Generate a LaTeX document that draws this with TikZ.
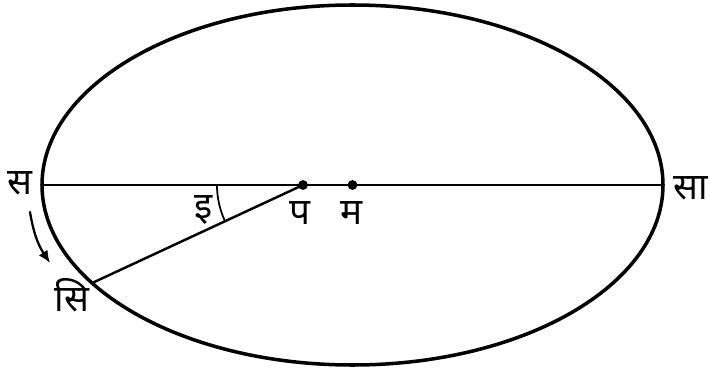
\documentclass[tikz,border=0pt]{standalone}
\usepackage{fontspec}
\usetikzlibrary{calc,arrows.meta}
\newfontfamily\devfont[Script=Devanagari]{Noto Sans}
\tikzset{
  lbl/.style={font=\devfont\fontsize{21}{24}\selectfont, inner sep=0pt},
  orbit/.style={line width=2pt},
}
\begin{document}
\begin{tikzpicture}[cap=round, >=latex]
\useasboundingbox (0,0) rectangle (14.2,7.5);
% Kendra va nabhi
\coordinate (M) at (7.05,3.8);
\coordinate (P) at (6.06,3.8);
% Dirgh vritt
\draw[orbit] (M) ellipse (6.21cm and 3.6cm);
\coordinate (S) at ($(M)+(-6.21,0)$);
\coordinate (Sa) at ($(M)+(6.21,0)$);
\coordinate (Si) at ($(M)+(213:6.21cm and 3.6cm)$);
% Aksh rekha
\draw[line width=1.4pt] (S) -- (Sa);
\draw[line width=1.4pt] (P) -- (Si);
\fill (P) circle (2.8pt);
\fill (M) circle (2.8pt);
% Kon
\draw[line width=1pt] ($(P)+(180:1.72)$) arc (180:204:1.72);
% Naam
\node[lbl] (lS) at (0.4,3.84) {स};
\node[lbl] (lSa) at (13.82,3.74) {सा};
\node[lbl] (lI) at (4.08,3.3) {इ};
\node[lbl] (lP) at (6.0,3.24) {प};
\node[lbl] (lM) at (7.04,3.24) {म};
\node[lbl] (lSi) at (1.44,1.6) {सि};
% Gati ki disha
\coordinate (a1) at (0.6,3.26);
\coordinate (a2) at (1.0,2.24);
\draw[-{Latex[length=7pt,width=6pt]}, line width=1.3pt] (a1) to[bend right=12] (a2);
\end{tikzpicture}
\end{document}
